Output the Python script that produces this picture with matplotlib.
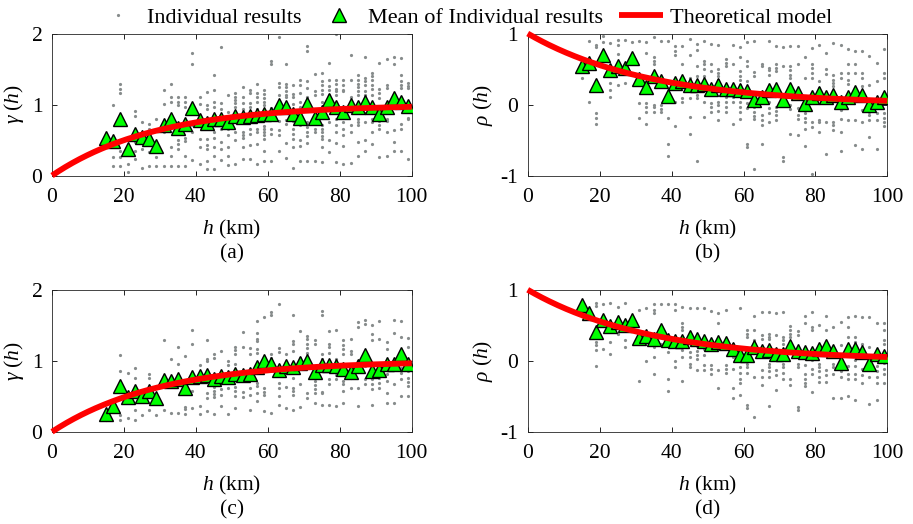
import numpy as np
import matplotlib
matplotlib.use('Agg')
import matplotlib.pyplot as plt

plt.rcParams['font.family'] = ['Liberation Serif', 'DejaVu Serif']
plt.rcParams['font.size'] = 15.5
plt.rcParams['mathtext.fontset'] = 'custom'
plt.rcParams['mathtext.rm'] = 'Liberation Serif'
plt.rcParams['mathtext.it'] = 'Liberation Serif:italic'
plt.rcParams['axes.unicode_minus'] = False
plt.rcParams['xtick.direction'] = 'in'
plt.rcParams['ytick.direction'] = 'in'
plt.rcParams['xtick.top'] = True
plt.rcParams['ytick.right'] = True

# lag distances (km)
h_lag = [15, 17, 19, 21, 23, 25, 27, 29, 31, 33, 35, 37, 39, 41, 43, 45, 47, 49, 51, 53, 55,
         57, 59, 61, 63, 65, 67, 69, 71, 73, 75, 77, 79, 81, 83, 85, 87, 89, 91, 93, 95, 97, 99]

# model parameters (sill, range in km)
model_a = (1.0, 29.0)
model_b = (1.0, 34.0)
model_c = (1.0, 30.0)
model_d = (1.0, 34.0)

mean_a = [0.53, 0.48, 0.80, 0.37, 0.59, 0.54, 0.52, 0.41, 0.71, 0.80, 0.67, 0.73, 0.95, 0.78, 0.74,
          0.80, 0.80, 0.76, 0.84, 0.82, 0.84, 0.85, 0.87, 0.86, 0.99, 0.96, 0.87, 0.81, 1.01, 0.81,
          0.90, 1.06, 0.97, 0.90, 1.00, 0.97, 1.04, 0.97, 0.87, 0.97, 1.09, 1.04, 0.98]
mean_b = [0.54, 0.59, 0.27, 0.70, 0.48, 0.54, 0.51, 0.65, 0.36, 0.25, 0.40, 0.33, 0.12, 0.30, 0.33,
          0.28, 0.28, 0.29, 0.22, 0.27, 0.22, 0.22, 0.21, 0.19, 0.07, 0.10, 0.20, 0.22, 0.06, 0.22,
          0.16, 0.01, 0.10, 0.16, 0.11, 0.13, 0.03, 0.11, 0.18, 0.13, -0.01, 0.04, 0.11]
mean_c = [0.25, 0.37, 0.64, 0.49, 0.58, 0.51, 0.57, 0.48, 0.73, 0.71, 0.74, 0.62, 0.77, 0.78, 0.80,
          0.74, 0.78, 0.77, 0.82, 0.80, 0.81, 0.91, 0.99, 0.96, 0.87, 0.92, 0.91, 0.97, 0.99, 0.84,
          0.94, 0.94, 0.93, 0.89, 0.84, 0.92, 1.08, 0.86, 0.87, 0.95, 0.95, 1.09, 0.95]
mean_d = [0.79, 0.67, 0.41, 0.58, 0.49, 0.55, 0.51, 0.57, 0.32, 0.35, 0.31, 0.43, 0.29, 0.28, 0.28,
          0.33, 0.30, 0.28, 0.23, 0.27, 0.25, 0.17, 0.08, 0.08, 0.19, 0.14, 0.15, 0.09, 0.09, 0.21,
          0.14, 0.12, 0.11, 0.17, 0.21, 0.14, -0.03, 0.16, 0.17, 0.13, -0.04, 0.09, 0.07]

# individual results, one list per lag
ind_a = [
    [0.52, 0.56],
    [0.99, 0.26, 0.13],
    [1.29, 1.22, 1.16, 0.35, 0.26, 0.13],
    [0.16, 0.05],
    [0.91, 0.84, 0.47, 0.35, 0.23],
    [0.75, 0.37, 0.10],
    [0.72, 0.66, 0.33, 0.13],
    [0.80, 0.26, 0.13],
    [1.20, 1.01, 0.66, 0.61, 0.14],
    [1.29, 1.10, 1.03, 0.40, 0.28, 0.13],
    [1.11, 1.03, 0.99, 0.50, 0.45, 0.37, 0.13],
    [1.10, 1.03, 0.97, 0.53, 0.48, 0.28, 0.13],
    [1.73, 1.57, 0.94, 0.71, 0.61, 0.22],
    [1.11, 1.01, 0.52, 0.40, 0.16],
    [1.18, 0.99, 0.94, 0.51, 0.43, 0.37, 0.21, 0.09],
    [1.42, 1.20, 1.04, 0.96, 0.76, 0.61, 0.53, 0.40, 0.28, 0.09],
    [1.81, 1.02, 0.94, 0.66, 0.47, 0.38, 0.22],
    [1.14, 0.90, 0.66, 0.57, 0.40, 0.27, 0.15],
    [1.16, 1.11, 1.07, 1.02, 0.97, 0.61, 0.50, 0.16],
    [1.24, 1.10, 1.02, 0.94, 0.61, 0.57, 0.53, 0.40, 0.23],
    [1.21, 1.16, 1.02, 0.96, 0.66, 0.59, 0.43, 0.23],
    [1.29, 1.16, 1.10, 1.04, 0.94, 0.66, 0.61, 0.45, 0.16],
    [1.20, 1.15, 1.09, 1.03, 0.99, 0.70, 0.66, 0.61, 0.57, 0.52, 0.34, 0.21],
    [1.61, 1.57, 0.95, 0.66, 0.59, 0.21],
    [1.95, 1.31, 1.24, 1.14, 1.04, 0.77, 0.64, 0.57, 0.35],
    [1.57, 1.29, 1.24, 1.19, 1.14, 1.10, 0.95, 0.78, 0.73, 0.46, 0.24],
    [1.28, 1.15, 1.10, 1.01, 0.77, 0.66, 0.59, 0.52, 0.40, 0.11],
    [1.34, 1.28, 1.16, 1.04, 0.97, 0.78, 0.71, 0.50, 0.42, 0.20],
    [1.83, 1.76, 1.33, 1.23, 1.10, 1.04, 0.76, 0.69, 0.62, 0.56, 0.46, 0.20],
    [1.43, 1.19, 1.14, 0.94, 0.80, 0.66, 0.61, 0.20],
    [1.45, 1.33, 1.27, 1.21, 1.15, 1.04, 0.71, 0.66, 0.61, 0.56, 0.52, 0.40, 0.19],
    [1.58, 1.34, 1.26, 1.21, 1.14, 0.99, 0.76, 0.50, 0.33],
    [2.00, 1.35, 1.29, 1.22, 1.19, 1.14, 0.94, 0.80, 0.71, 0.61, 0.46, 0.19],
    [1.34, 1.27, 1.21, 1.19, 0.76, 0.66, 0.57, 0.42, 0.16],
    [1.70, 1.34, 1.11, 1.04, 0.71, 0.61, 0.18],
    [1.42, 1.34, 1.29, 1.24, 1.19, 1.14, 0.80, 0.76, 0.71, 0.47, 0.28],
    [1.67, 1.38, 1.33, 1.27, 1.19, 1.14, 0.88, 0.76, 0.50, 0.35],
    [1.45, 1.40, 1.35, 1.28, 1.22, 1.14, 0.80, 0.76, 0.61, 0.45],
    [1.59, 1.22, 1.16, 1.09, 0.83, 0.77, 0.71, 0.66, 0.26],
    [1.64, 1.28, 1.23, 0.80, 0.77, 0.61, 0.27],
    [1.67, 1.57, 1.03, 0.64, 0.47, 0.34],
    [1.65, 1.42, 1.33, 1.28, 1.23, 0.72, 0.65, 0.35],
    [1.31, 1.26, 1.23, 0.81, 0.80, 0.23],
]
ind_b = [
    [0.38, 0.50],
    [0.89, 0.04],
    [0.84, 0.81, -0.12, -0.19, -0.27],
    [0.96, 0.88],
    [0.86, 0.53, 0.30, 0.20, 0.11],
    [0.91, 0.84, 0.71, 0.28],
    [0.91, 0.30],
    [0.88, 0.66],
    [0.89, 0.43, 0.02, -0.19],
    [0.88, 0.72, 0.02, -0.04, -0.10, -0.27],
    [0.95, 0.67, 0.61, 0.57, 0.00, -0.04, -0.10],
    [0.89, -0.01, -0.06, -0.10],
    [0.90, -0.19, -0.55, -0.72],
    [0.83, 0.76, 0.70, 0.04, -0.30],
    [0.83, 0.57, 0.09, 0.03],
    [0.92, 0.70, 0.38, 0.09, -0.17, -0.41],
    [0.85, 0.77, 0.54, 0.40, 0.14, 0.09, -0.79],
    [0.90, 0.62, 0.57, 0.50, 0.40, 0.04, -0.17],
    [0.85, 0.57, 0.47, 0.02, -0.03, -0.10],
    [0.84, 0.50, 0.45, 0.40, 0.35, 0.04, -0.01, -0.09, -0.22],
    [0.64, 0.59, 0.54, 0.26, 0.11, 0.04, -0.03, -0.10],
    [0.84, 0.57, 0.11, 0.03, -0.28],
    [0.81, 0.67, 0.47, 0.40, 0.34, 0.28, 0.04, -0.03, -0.10, -0.20],
    [0.88, 0.61, 0.54, 0.33, 0.02, -0.05, -0.55, -0.60],
    [0.89, 0.46, 0.40, 0.07, 0.02, -0.04, -0.10, -0.16, -0.20, -0.91],
    [0.57, 0.54, 0.18, -0.15, -0.22, -0.29, -0.55],
    [0.89, 0.52, 0.48, 0.42, 0.04, -0.05, -0.12, -0.24],
    [0.83, 0.57, 0.52, 0.47, 0.21, -0.03, -0.09, -0.15, -0.22],
    [0.81, 0.54, -0.74, -0.80],
    [0.83, 0.54, 0.48, 0.42, 0.38, 0.23, 0.00, -0.06, -0.41],
    [0.83, 0.57, 0.11, -0.05, -0.15, -0.20, -0.43],
    [0.67, 0.38, -0.12, -0.19, -0.25, -0.34, -0.58],
    [0.79, 0.57, 0.51, 0.45, 0.38, 0.14, -0.24, -0.31, -0.98],
    [0.84, 0.33, 0.23, -0.22, -0.24, -0.39],
    [0.72, 0.50, 0.43, 0.11, -0.24, -0.70],
    [0.86, 0.42, 0.35, 0.30, 0.26, -0.24, -0.29, -0.36],
    [0.84, 0.45, 0.38, -0.08, -0.20, -0.39, -0.65],
    [0.78, 0.57, 0.45, 0.34, 0.29, 0.09, -0.22],
    [0.75, 0.57, 0.45, 0.22, 0.14, -0.22, -0.57],
    [0.75, 0.45, 0.38, 0.26, -0.08, -0.25, -0.63],
    [0.69, 0.28, -0.08, -0.10, -0.15, -0.22, -0.46],
    [0.59, 0.33, -0.12, -0.22, -0.62],
    [0.78, 0.45, 0.38, 0.09, -0.12, -0.19, -0.24, -0.30],
]
ind_c = [
    [0.16],
    [0.33],
    [1.08, 0.86, 0.24, 0.17],
    [0.83, 0.19],
    [0.90, 0.76, 0.31, 0.17],
    [0.24],
    [0.82, 0.76, 0.30],
    [0.43, 0.24],
    [1.29, 0.30],
    [1.02, 0.77, 0.27],
    [1.19, 0.96, 0.27],
    [1.07, 0.35, 0.32, 0.25],
    [1.43, 1.24, 0.57, 0.33],
    [0.94, 0.36, 0.25],
    [1.29, 1.02, 0.99, 0.54, 0.48, 0.29],
    [1.10, 1.04, 0.63, 0.57, 0.53, 0.49, 0.25],
    [1.14, 0.60, 0.52, 0.36],
    [0.99, 0.94, 0.61, 0.25],
    [1.19, 1.15, 1.09, 0.95, 0.63, 0.57, 0.50, 0.33],
    [1.41, 1.19, 0.56, 0.49],
    [1.18, 1.10, 0.62, 0.52, 0.30],
    [1.56, 1.39, 1.30, 1.28, 1.16, 1.11, 0.69, 0.64, 0.54, 0.43],
    [1.62, 1.04, 0.62, 0.56, 0.52, 0.29],
    [1.68, 1.65, 1.09, 1.04, 1.00, 0.95, 0.27],
    [1.80, 1.18, 1.13, 0.68, 0.62, 0.50, 0.38],
    [1.10, 0.63, 0.33],
    [1.65, 1.28, 1.23, 1.14, 0.85, 0.76, 0.62, 0.57, 0.52, 0.31],
    [1.42, 1.04, 1.00, 0.67, 0.35],
    [1.35, 1.30, 1.23, 1.18, 1.11, 0.54, 0.48],
    [1.29, 1.24, 0.71, 0.66, 0.60, 0.55, 0.41],
    [1.70, 1.65, 1.10, 1.03, 0.95, 0.56, 0.54, 0.38],
    [1.42, 1.24, 1.19, 1.11, 0.74, 0.67, 0.38],
    [1.44, 1.02, 0.96, 0.80, 0.75, 0.36],
    [1.29, 1.22, 1.17, 1.10, 0.72, 0.67, 0.57, 0.41],
    [1.30, 1.14, 1.09, 0.76, 0.62],
    [1.54, 1.47, 1.00, 0.93, 0.62, 0.36],
    [1.57, 1.52, 0.93, 0.74, 0.67],
    [1.50, 1.38, 1.29, 0.74, 0.67, 0.60, 0.38],
    [1.56, 1.30, 0.80, 0.76, 0.69, 0.62],
    [1.27, 1.17, 0.94, 0.81, 0.71, 0.55, 0.41],
    [1.58, 1.39, 0.67, 0.41],
    [1.56, 1.33, 0.90, 0.83, 0.75, 0.50],
    [1.32, 1.19, 0.85, 0.76, 0.70, 0.64, 0.50],
]
ind_d = [
    [0.75],
    [0.65],
    [0.82, 0.77, 0.36, 0.27, 0.22, 0.15, -0.08],
    [0.80, 0.17],
    [0.82, 0.27, 0.10],
    [0.76, 0.38],
    [0.82, 0.29, 0.20],
    [0.55],
    [0.72, -0.28],
    [0.75, -0.01],
    [0.80, 0.71, 0.67, 0.20, 0.06, -0.19],
    [0.80, 0.24],
    [0.80, 0.22, 0.13, -0.25, -0.42],
    [0.80, 0.71, -0.01, -0.09],
    [0.76, 0.53, 0.48, 0.43, 0.31, 0.15, 0.06, -0.28],
    [0.74, 0.13, 0.06, -0.04, -0.09],
    [0.75, 0.21, 0.14, 0.08, 0.02, -0.13],
    [0.74, 0.17, 0.08, -0.06, -0.13],
    [0.70, -0.06, -0.11, -0.19],
    [0.67, 0.53, -0.13, -0.39],
    [0.72, -0.06, -0.11, -0.17],
    [0.24, 0.06, -0.12, -0.39, -0.53],
    [0.75, -0.09, -0.17, -0.25, -0.32, -0.48],
    [0.44, 0.38, 0.33, -0.04, -0.09, -0.17, -0.62, -0.67],
    [0.63, 0.43, 0.29, -0.23, -0.79],
    [0.69, 0.36, 0.30, -0.13, -0.23, -0.34],
    [0.68, 0.38, 0.34, 0.30, -0.04, -0.09, -0.15, -0.23, -0.64],
    [0.67, 0.36, 0.01, -0.13, -0.20, -0.41],
    [0.69, 0.34, 0.29, 0.24, -0.04, -0.09, -0.17, -0.25],
    [0.49, 0.44, 0.38, 0.34, -0.26, -0.34],
    [0.42, 0.36, -0.04, -0.09, -0.65, -0.69],
    [0.63, 0.53, -0.06, -0.18, -0.25, -0.32, -0.36],
    [0.69, 0.48, 0.43, 0.01, -0.11, -0.18, -0.44],
    [0.50, -0.04, -0.09, -0.15, -0.23, -0.30],
    [0.63, 0.43, -0.13, -0.20, -0.30],
    [0.48, -0.04, -0.09, -0.18, -0.52],
    [0.55, 0.22, -0.09, -0.15, -0.23, -0.53],
    [0.62, 0.48, 0.33, -0.08, -0.18, -0.25, -0.50],
    [0.63, 0.34, 0.27, 0.01, -0.08, -0.18, -0.26, -0.55],
    [0.61, 0.24, -0.11, -0.20, -0.32],
    [0.61, 0.20, -0.08, -0.23, -0.61],
    [0.53, -0.08, -0.15, -0.23, -0.31, -0.55],
    [0.53, 0.43, 0.29, 0.24, -0.03, -0.11, -0.18, -0.32],
]

fig = plt.figure(figsize=(9.13, 5.24), dpi=100)

W, H = 0.394, 0.271
positions = [[0.057, 0.665, W, H], [0.578, 0.665, W, H],
             [0.057, 0.176, W, H], [0.578, 0.176, W, H]]
panels = [(ind_a, mean_a, model_a, 'variogram', '(a)'),
          (ind_b, mean_b, model_b, 'correlogram', '(b)'),
          (ind_c, mean_c, model_c, 'variogram', '(c)'),
          (ind_d, mean_d, model_d, 'correlogram', '(d)')]

h_model = np.linspace(0, 100, 300)
for pos, (ind, mean, model, kind, tag) in zip(positions, panels):
    ax = fig.add_axes(pos)
    xs, ys = [], []
    for hv, vals in zip(h_lag, ind):
        xs += [hv] * len(vals)
        ys += vals
    ax.plot(xs, ys, 'o', color='#878c8c', markersize=2.3, markeredgewidth=0,
            label='Individual results', zorder=2)
    ax.plot(h_lag, mean, '^', color='#00ff00', markeredgecolor='black', markeredgewidth=1.0,
            markersize=9.5, label='Mean of Individual results', zorder=3)
    sill, rng = model
    if kind == 'variogram':
        curve = sill * (1 - np.exp(-h_model / rng))
        ax.set_ylim(0, 2)
        ax.set_yticks([0, 1, 2])
        ax.set_ylabel(r'$\gamma\ (h)$', labelpad=4)
    else:
        curve = sill * np.exp(-h_model / rng)
        ax.set_ylim(-1, 1)
        ax.set_yticks([-1, 0, 1])
        ax.set_ylabel(r'$\rho\ (h)$', labelpad=4)
    ax.plot(h_model, curve, color='red', linewidth=4.2, label='Theoretical model',
            zorder=4, solid_capstyle='butt', clip_on=False)
    ax.set_xlim(0, 100)
    ax.set_xticks([0, 20, 40, 60, 80, 100])
    ax.set_xlabel(r'$h$ (km)', labelpad=8)
    ax.tick_params(axis='x', length=3.5, width=0.6, pad=9)
    ax.tick_params(axis='y', length=3.5, width=0.6, pad=7)
    for s in ax.spines.values():
        s.set_linewidth(0.6)
        s.set_color('#262626')
    ax.text(0.5, -0.55, tag, transform=ax.transAxes, ha='center', va='center')
    if tag == '(a)':
        handles, labels = ax.get_legend_handles_labels()

fig.legend(handles, labels, loc='center', bbox_to_anchor=(0.508, 0.967), ncol=3,
           frameon=False, fontsize=16, handlelength=2.0, handletextpad=0.3,
           columnspacing=0.7, markerscale=1.0, borderaxespad=0, borderpad=0)

fig.savefig('out.png', dpi=100)
